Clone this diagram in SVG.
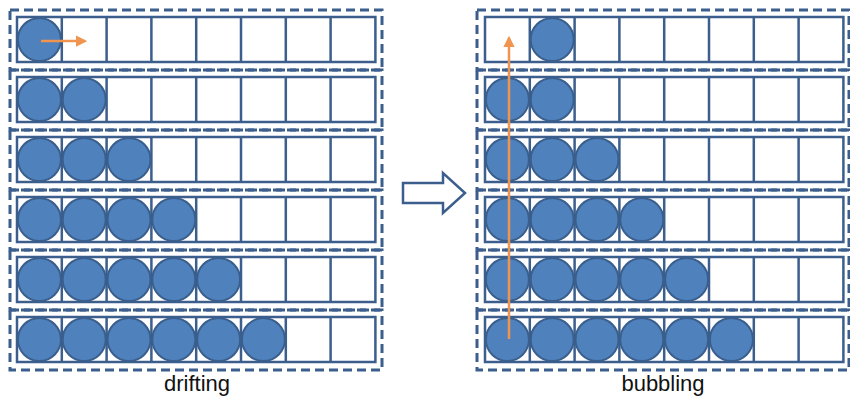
<svg xmlns="http://www.w3.org/2000/svg" width="850" height="396" viewBox="0 0 850 396">
<style>
.dash{fill:none;stroke:#3B5E8C;stroke-width:3;stroke-dasharray:9 5}
.box{fill:#fff;stroke:#3B5E8C;stroke-width:2.5}
.cell{fill:none;stroke:#3B5E8C;stroke-width:2.5}
.ball{fill:#4F81BD;stroke:#3A5F8D;stroke-width:2}
.lbl{font-family:"Liberation Sans","DejaVu Sans",sans-serif;font-size:22px;fill:#111;text-anchor:middle}
.orange{stroke:#F0954F;stroke-width:2.5;fill:none}
</style>
<defs>
<marker id="ah" viewBox="0 0 10 10" refX="8" refY="5" markerWidth="4.5" markerHeight="4.5" orient="auto" markerUnits="strokeWidth">
<path d="M0,0 L10,5 L0,10 z" fill="#F0954F"/>
</marker>
<g id="rowcells">
<rect class="box" x="0" y="0" width="358.4" height="45"/>
<path class="cell" d="M44.8,0V45M89.6,0V45M134.4,0V45M179.2,0V45M224,0V45M268.8,0V45M313.6,0V45"/>
</g>
</defs>
<g id="left-panel">
<g id="L1"><rect class="dash" x="10" y="10" width="372" height="60"/><use href="#rowcells" x="17" y="17"/>
<circle class="ball" cx="39.4" cy="39.5" r="21.5"/></g>
<g id="L2"><rect class="dash" x="10" y="70" width="372" height="60"/><use href="#rowcells" x="17" y="77"/>
<circle class="ball" cx="39.4" cy="99.5" r="21.5"/><circle class="ball" cx="84.2" cy="99.5" r="21.5"/></g>
<g id="L3"><rect class="dash" x="10" y="130" width="372" height="60"/><use href="#rowcells" x="17" y="137"/>
<circle class="ball" cx="39.4" cy="159.5" r="21.5"/><circle class="ball" cx="84.2" cy="159.5" r="21.5"/><circle class="ball" cx="129" cy="159.5" r="21.5"/></g>
<g id="L4"><rect class="dash" x="10" y="190" width="372" height="60"/><use href="#rowcells" x="17" y="197"/>
<circle class="ball" cx="39.4" cy="219.5" r="21.5"/><circle class="ball" cx="84.2" cy="219.5" r="21.5"/><circle class="ball" cx="129" cy="219.5" r="21.5"/><circle class="ball" cx="173.8" cy="219.5" r="21.5"/></g>
<g id="L5"><rect class="dash" x="10" y="250" width="372" height="60"/><use href="#rowcells" x="17" y="257"/>
<circle class="ball" cx="39.4" cy="279.5" r="21.5"/><circle class="ball" cx="84.2" cy="279.5" r="21.5"/><circle class="ball" cx="129" cy="279.5" r="21.5"/><circle class="ball" cx="173.8" cy="279.5" r="21.5"/><circle class="ball" cx="218.6" cy="279.5" r="21.5"/></g>
<g id="L6"><rect class="dash" x="10" y="310" width="372" height="60"/><use href="#rowcells" x="17" y="317"/>
<circle class="ball" cx="39.4" cy="339.5" r="21.5"/><circle class="ball" cx="84.2" cy="339.5" r="21.5"/><circle class="ball" cx="129" cy="339.5" r="21.5"/><circle class="ball" cx="173.8" cy="339.5" r="21.5"/><circle class="ball" cx="218.6" cy="339.5" r="21.5"/><circle class="ball" cx="263.4" cy="339.5" r="21.5"/></g>
<text class="lbl" x="197" y="391">drifting</text>
</g>
<g id="right-panel">
<g id="R1"><rect class="dash" x="477" y="10" width="372" height="60"/><use href="#rowcells" x="485" y="17"/>
<circle class="ball" cx="552.2" cy="39.5" r="21.5"/></g>
<g id="R2"><rect class="dash" x="477" y="70" width="372" height="60"/><use href="#rowcells" x="485" y="77"/>
<circle class="ball" cx="507.4" cy="99.5" r="21.5"/><circle class="ball" cx="552.2" cy="99.5" r="21.5"/></g>
<g id="R3"><rect class="dash" x="477" y="130" width="372" height="60"/><use href="#rowcells" x="485" y="137"/>
<circle class="ball" cx="507.4" cy="159.5" r="21.5"/><circle class="ball" cx="552.2" cy="159.5" r="21.5"/><circle class="ball" cx="597" cy="159.5" r="21.5"/></g>
<g id="R4"><rect class="dash" x="477" y="190" width="372" height="60"/><use href="#rowcells" x="485" y="197"/>
<circle class="ball" cx="507.4" cy="219.5" r="21.5"/><circle class="ball" cx="552.2" cy="219.5" r="21.5"/><circle class="ball" cx="597" cy="219.5" r="21.5"/><circle class="ball" cx="641.8" cy="219.5" r="21.5"/></g>
<g id="R5"><rect class="dash" x="477" y="250" width="372" height="60"/><use href="#rowcells" x="485" y="257"/>
<circle class="ball" cx="507.4" cy="279.5" r="21.5"/><circle class="ball" cx="552.2" cy="279.5" r="21.5"/><circle class="ball" cx="597" cy="279.5" r="21.5"/><circle class="ball" cx="641.8" cy="279.5" r="21.5"/><circle class="ball" cx="686.6" cy="279.5" r="21.5"/></g>
<g id="R6"><rect class="dash" x="477" y="310" width="372" height="60"/><use href="#rowcells" x="485" y="317"/>
<circle class="ball" cx="507.4" cy="339.5" r="21.5"/><circle class="ball" cx="552.2" cy="339.5" r="21.5"/><circle class="ball" cx="597" cy="339.5" r="21.5"/><circle class="ball" cx="641.8" cy="339.5" r="21.5"/><circle class="ball" cx="686.6" cy="339.5" r="21.5"/><circle class="ball" cx="731.4" cy="339.5" r="21.5"/></g>
<text class="lbl" x="663" y="391">bubbling</text>
</g>
<g id="big-arrow">
<path d="M403,183 H443 V173 L465,193 L443,213 V203 H403 Z" fill="#fff" stroke="#3B5E8C" stroke-width="2.5" stroke-linejoin="miter"/>
</g>
<g id="connectors">
<line class="orange" x1="41" y1="41" x2="85" y2="41" marker-end="url(#ah)"/>
<line class="orange" x1="509" y1="339" x2="509" y2="38" marker-end="url(#ah)"/>
</g>
</svg>
